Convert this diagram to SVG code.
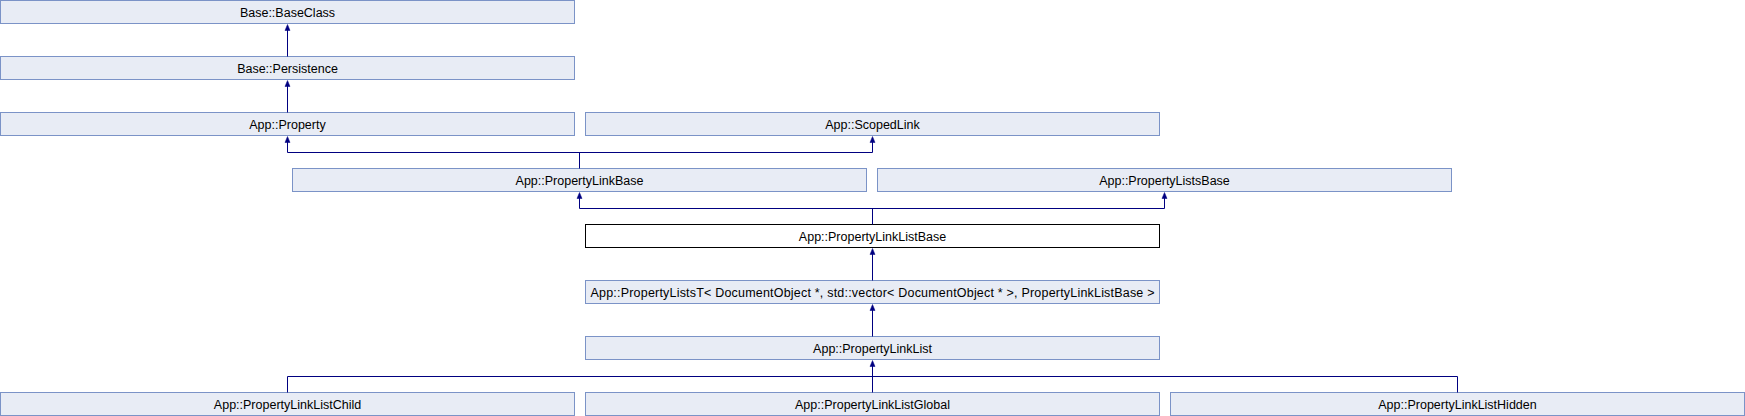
<svg xmlns="http://www.w3.org/2000/svg" width="1745" height="416" viewBox="0 0 1745 416">
<defs>
<style>
.n rect{fill:#e8ecf5;stroke:#7b93c7;stroke-width:1}
.n.cur rect{fill:#ffffff;stroke:#000000}
.n text{font-family:"Liberation Sans",Arial,sans-serif;font-size:12.5px;fill:#000;text-anchor:middle}
#edges path{fill:none;stroke:#000080;stroke-width:1}
#edges polygon{fill:#000080;stroke:#000080;stroke-width:0.5}
</style>
</defs>
<rect width="1745" height="416" fill="#ffffff"/>
<g id="n_BaseClass" class="n"><rect x="0.5" y="0.5" width="574" height="23"/><text x="287.5" y="16.5">Base::BaseClass</text></g>
<g id="n_Persistence" class="n"><rect x="0.5" y="56.5" width="574" height="23"/><text x="287.5" y="72.5">Base::Persistence</text></g>
<g id="n_Property" class="n"><rect x="0.5" y="112.5" width="574" height="23"/><text x="287.5" y="128.5">App::Property</text></g>
<g id="n_ScopedLink" class="n"><rect x="585.5" y="112.5" width="574" height="23"/><text x="872.5" y="128.5">App::ScopedLink</text></g>
<g id="n_PropertyLinkBase" class="n"><rect x="292.5" y="168.5" width="574" height="23"/><text x="579.5" y="184.5">App::PropertyLinkBase</text></g>
<g id="n_PropertyListsBase" class="n"><rect x="877.5" y="168.5" width="574" height="23"/><text x="1164.5" y="184.5">App::PropertyListsBase</text></g>
<g id="n_PropertyLinkListBase" class="n cur"><rect x="585.5" y="224.5" width="574" height="23"/><text x="872.5" y="240.5">App::PropertyLinkListBase</text></g>
<g id="n_PropertyListsT" class="n"><rect x="585.5" y="280.5" width="574" height="23"/><text x="872.5" y="296.5" textLength="564" lengthAdjust="spacing">App::PropertyListsT&lt; DocumentObject *, std::vector&lt; DocumentObject * &gt;, PropertyLinkListBase &gt;</text></g>
<g id="n_PropertyLinkList" class="n"><rect x="585.5" y="336.5" width="574" height="23"/><text x="872.5" y="352.5">App::PropertyLinkList</text></g>
<g id="n_PropertyLinkListChild" class="n"><rect x="0.5" y="392.5" width="574" height="23"/><text x="287.5" y="408.5">App::PropertyLinkListChild</text></g>
<g id="n_PropertyLinkListGlobal" class="n"><rect x="585.5" y="392.5" width="574" height="23"/><text x="872.5" y="408.5">App::PropertyLinkListGlobal</text></g>
<g id="n_PropertyLinkListHidden" class="n"><rect x="1170.5" y="392.5" width="574" height="23"/><text x="1457.5" y="408.5">App::PropertyLinkListHidden</text></g>
<g id="edges">
<path d="M287.5 56.5V26"/><polygon points="287.5,24.5 285,30.5 290,30.5"/>
<path d="M287.5 112.5V82"/><polygon points="287.5,80.5 285,86.5 290,86.5"/>
<path d="M579.5 168.5V152.5M287.5 152.5H872.5M287.5 152.5V138M872.5 152.5V138"/>
<polygon points="287.5,136.5 285,142.5 290,142.5"/><polygon points="872.5,136.5 870,142.5 875,142.5"/>
<path d="M872.5 224.5V208.5M579.5 208.5H1164.5M579.5 208.5V194M1164.5 208.5V194"/>
<polygon points="579.5,192.5 577,198.5 582,198.5"/><polygon points="1164.5,192.5 1162,198.5 1167,198.5"/>
<path d="M872.5 280.5V250"/><polygon points="872.5,248.5 870,254.5 875,254.5"/>
<path d="M872.5 336.5V306"/><polygon points="872.5,304.5 870,310.5 875,310.5"/>
<path d="M872.5 392.5V362M287.5 376.5H1457.5M287.5 376.5V392.5M1457.5 376.5V392.5"/>
<polygon points="872.5,360.5 870,366.5 875,366.5"/>
</g>
</svg>
